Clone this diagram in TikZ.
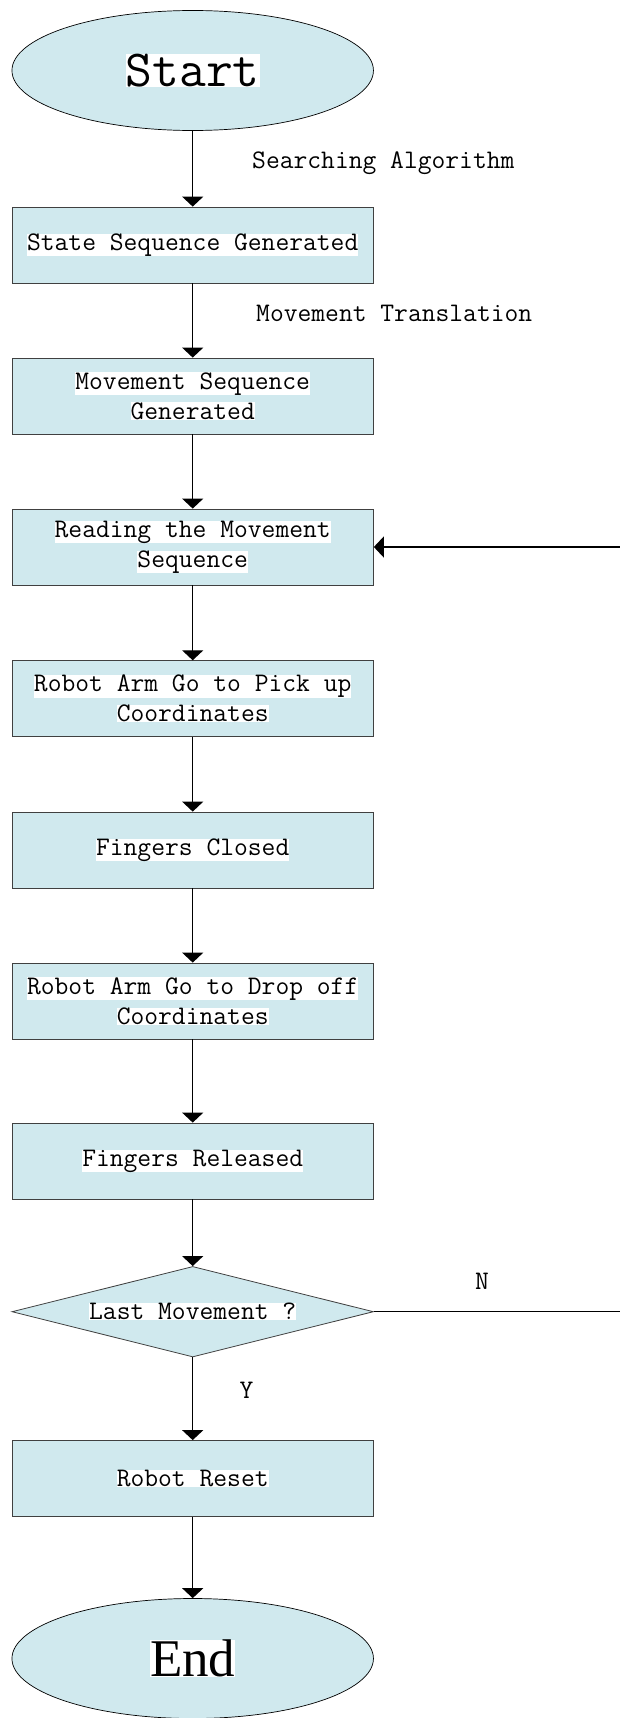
\documentclass[tikz,border=0pt]{standalone}
\usepackage{fontspec}
\newfontfamily\endfont{Liberation Serif}
\usetikzlibrary{shapes.geometric,arrows.meta}
\definecolor{boxblue}{RGB}{208,233,238}
\newcommand{\hl}[1]{{\setlength{\fboxsep}{0pt}\colorbox{white}{#1}}}
\newcommand{\boxfont}{\ttfamily\fontsize{26.8}{30}\selectfont}

\begin{document}
\begin{tikzpicture}[x=1pt,y=-1pt,
  box/.style={rectangle,draw=black!75,line width=0.8pt,fill=boxblue,minimum width=361.5pt,minimum height=76pt,inner sep=0pt,align=center,font=\boxfont},
  term/.style={ellipse,draw=black,line width=0.7pt,fill=boxblue,minimum width=361.5pt,minimum height=120pt,inner sep=0pt},
  flow/.style={line width=1.3pt,-{Triangle[width=21pt,length=10pt]}},
  lbl/.style={inner sep=0pt,font=\boxfont}]
\useasboundingbox (0,0) rectangle (620,1718);

\node (start) at (192.7,70.5) [term,font=\ttfamily\fontsize{52}{60}\selectfont]{\hl{Start}};
\node (state) at (192.7,245) [box]{\hl{State Sequence Generated}};
\node (move) at (192.7,396) [box]{\hl{Movement Sequence}\\\hl{Generated}};
\node (read) at (192.7,547) [box]{\hl{Reading the Movement}\\\hl{Sequence}};
\node (pick) at (192.7,698.7) [box]{\hl{Robot Arm Go to Pick up}\\\hl{Coordinates}};
\node (close) at (192.7,850) [box]{\hl{Fingers Closed}};
\node (drop) at (192.7,1001) [box]{\hl{Robot Arm Go to Drop off}\\\hl{Coordinates}};
\node (release) at (192.7,1161) [box]{\hl{Fingers Released}};
\node (last) at (192.7,1311.7) [diamond,aspect=4,draw=black!75,line width=0.8pt,fill=boxblue,minimum width=361.5pt,minimum height=90.5pt,inner sep=0pt,font=\boxfont]{\hl{Last Movement ?}};
\node (reset) at (192.7,1478.5) [box]{\hl{Robot Reset}};
\node (done) at (192.7,1658.5) [term,font=\endfont\fontsize{53}{60}\selectfont]{\hl{End}};

\node (alg) at (252,168) [lbl,anchor=base west]{Searching Algorithm};
\node (trans) at (256,321) [lbl,anchor=base west]{Movement Translation};
\node (no) at (482,1289) [lbl,anchor=base]{N};
\node (yes) at (246.5,1398) [lbl,anchor=base]{Y};

\coordinate (backin) at (620,547);
\coordinate (backout) at (620,1311.7);

\draw[flow] (start)--(state);
\draw[flow] (state)--(move);
\draw[flow] (move)--(read);
\draw[flow] (read)--(pick);
\draw[flow] (pick)--(close);
\draw[flow] (close)--(drop);
\draw[flow] (drop)--(release);
\draw[flow] (release)--(last);
\draw[flow] (last)--(reset);
\draw[flow] (reset)--(done);
\draw[line width=1.3pt] (last.east)--(backout);
\draw[flow] (backin)--(read.east);

\end{tikzpicture}
\end{document}
